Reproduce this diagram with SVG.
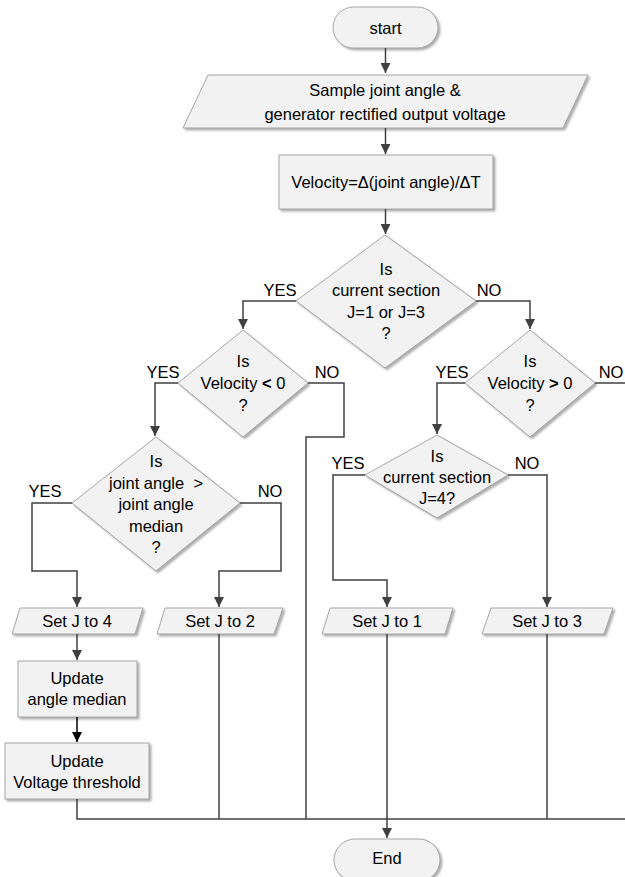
<svg xmlns="http://www.w3.org/2000/svg" width="625" height="877" viewBox="0 0 625 877">
<defs>
<filter id="sh" x="-10%" y="-10%" width="130%" height="130%">
<feDropShadow dx="2" dy="2" stdDeviation="1" flood-color="#9a9a9a" flood-opacity="0.8"/>
</filter>
<marker id="ah" viewBox="0 0 10 10" refX="10" refY="5" markerWidth="10" markerHeight="10" markerUnits="userSpaceOnUse" orient="auto">
<path d="M0,0 L10,5 L0,10 z" fill="#404040"/>
</marker>
<marker id="ahb" viewBox="0 0 10 10" refX="10" refY="5" markerWidth="10" markerHeight="10" markerUnits="userSpaceOnUse" orient="auto">
<path d="M0,0 L10,5 L0,10 z" fill="#000"/>
</marker>
</defs>
<style>
.n{fill:#f2f2f2;stroke:#a6a6a6;stroke-width:1;filter:url(#sh)}
.t{font-family:"Liberation Sans",Arial,sans-serif;font-size:16.5px;fill:#000;text-anchor:middle;dominant-baseline:central}
.c{fill:none;stroke:#404040;stroke-width:1.5}
.a{marker-end:url(#ah)}
.b{font-weight:bold}
.p{white-space:pre}
</style>
<rect width="625" height="877" fill="#fff"/>

<g id="start">
<rect class="n" x="333" y="7" width="105" height="41" rx="20.5"/>
<text class="t" x="385.5" y="28">start</text>
</g>
<g id="sample">
<polygon class="n" points="208,75 588,75 563,128 183,128"/>
<text class="t" x="385" y="90">Sample joint angle &amp;</text>
<text class="t" x="385" y="114">generator rectified output voltage</text>
</g>
<g id="velocity">
<rect class="n" x="279" y="155" width="214" height="54"/>
<text class="t" x="386" y="182">Velocity=Δ(joint angle)/ΔT</text>
</g>
<g id="d1">
<polygon class="n" points="385,235 476,301 385,368 296,301"/>
<text class="t" x="386" y="269">Is</text>
<text class="t" x="386" y="290">current section</text>
<text class="t" x="386" y="312">J=1 or J=3</text>
<text class="t" x="386" y="333">?</text>
</g>
<g id="d2">
<polygon class="n" points="243,330 308,383 243,437 178,383"/>
<text class="t" x="243" y="361">Is</text>
<text class="t" x="243" y="383">Velocity <tspan class="b">&lt;</tspan> 0</text>
<text class="t" x="243" y="405">?</text>
</g>
<g id="d3">
<polygon class="n" points="156,437 240,503 156,571 72,503"/>
<text class="t" x="156" y="461">Is</text>
<text class="t p" x="156" y="483">joint angle  &gt;</text>
<text class="t" x="156" y="504">joint angle</text>
<text class="t" x="156" y="526">median</text>
<text class="t" x="156" y="547">?</text>
</g>
<g id="d4">
<polygon class="n" points="530,330 595,383 530,437 465,383"/>
<text class="t" x="530" y="361">Is</text>
<text class="t" x="530" y="383">Velocity <tspan class="b">&gt;</tspan> 0</text>
<text class="t" x="530" y="405">?</text>
</g>
<g id="d5">
<polygon class="n" points="437,435 508,475 437,518 365,475"/>
<text class="t" x="437" y="456">Is</text>
<text class="t" x="437" y="477">current section</text>
<text class="t" x="437" y="498">J=4?</text>
</g>
<g id="setj4">
<polygon class="n" points="20,608 143,608 135,634 12,634"/>
<text class="t" x="77" y="621">Set J to 4</text>
</g>
<g id="setj2">
<polygon class="n" points="165,608 283,608 274,634 157,634"/>
<text class="t" x="220" y="621">Set J to 2</text>
</g>
<g id="setj1">
<polygon class="n" points="330,608 453,608 445,634 322,634"/>
<text class="t" x="387" y="621">Set J to 1</text>
</g>
<g id="setj3">
<polygon class="n" points="491,608 613,608 604,634 482,634"/>
<text class="t" x="547" y="621">Set J to 3</text>
</g>
<g id="median">
<rect class="n" x="18" y="661" width="119" height="56"/>
<text class="t" x="77" y="678">Update</text>
<text class="t" x="77" y="699">angle median</text>
</g>
<g id="threshold">
<rect class="n" x="5" y="743" width="144" height="56"/>
<text class="t" x="77" y="761">Update</text>
<text class="t" x="77" y="782">Voltage threshold</text>
</g>
<g id="end">
<rect class="n" x="334" y="839" width="106" height="42" rx="21"/>
<text class="t" x="387" y="858">End</text>
</g>

<g id="connectors">
<path class="c a" d="M385.5,48 V73"/>
<path class="c a" d="M385.5,128 V154"/>
<path class="c a" d="M385.5,209 V234"/>
<path class="c a" d="M296,301 H243 V329"/>
<path class="c a" d="M476,301 H530 V329"/>
<path class="c a" d="M178,383 H155 V436"/>
<path class="c" d="M308,383 H344 V437 H306 V819"/>
<path class="c a" d="M72,503 H32 V571 H77 V607"/>
<path class="c a" d="M240,503 H281 V571 H219 V607"/>
<path class="c a" d="M465,383 H437 V434"/>
<path class="c" d="M595,383 H625"/>
<path class="c a" d="M365,475 H333 V580 H387 V607"/>
<path class="c a" d="M508,475 H547 V607"/>
<path class="c a" d="M77,634 V660"/>
<path d="M77,717 V742" fill="none" stroke="#000" stroke-width="1.5" marker-end="url(#ahb)"/>
<path class="c" d="M77,799 V819 H625"/>
<path class="c" d="M219,634 V819"/>
<path class="c" d="M547,634 V819"/>
<path class="c a" d="M387,634 V838"/>
</g>
<g id="labels">
<text class="t" x="280" y="290">YES</text>
<text class="t" x="489" y="290">NO</text>
<text class="t" x="163" y="372">YES</text>
<text class="t" x="327" y="372">NO</text>
<text class="t" x="45" y="491">YES</text>
<text class="t" x="270" y="491">NO</text>
<text class="t" x="452" y="372">YES</text>
<text class="t" x="611" y="372">NO</text>
<text class="t" x="348" y="463">YES</text>
<text class="t" x="527" y="463">NO</text>
</g>
</svg>
